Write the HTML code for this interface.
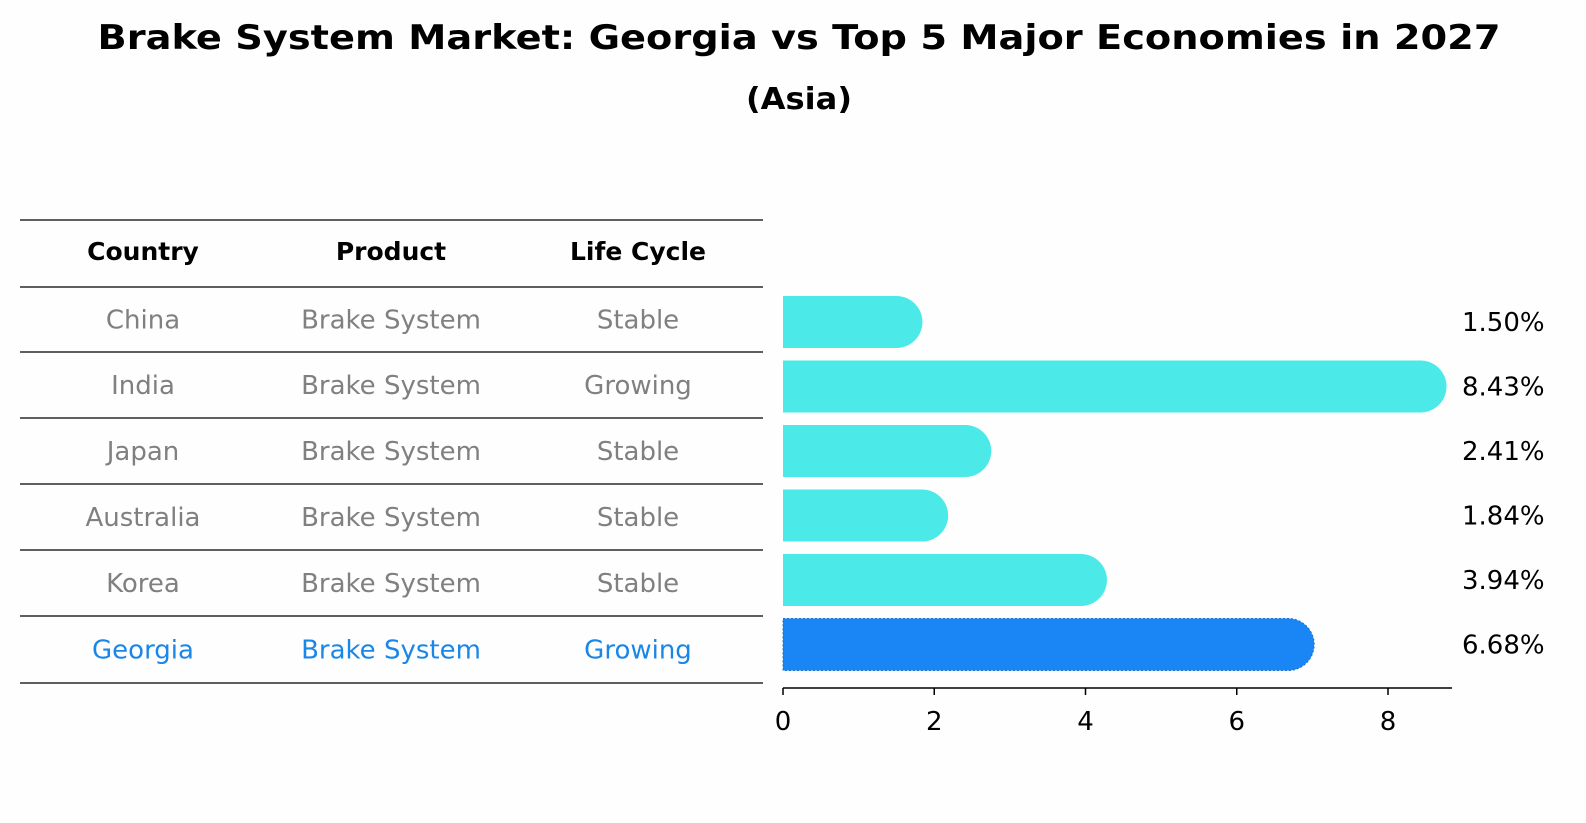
<!DOCTYPE html>
<html><head><meta charset="utf-8"><style>
body{margin:0;background:#fff;}
svg{display:block;font-family:"DejaVu Sans","Liberation Sans",sans-serif;}
</style></head><body>
<svg id="chart" width="1586" height="823" xmlns="http://www.w3.org/2000/svg">
<rect width="1586" height="823" fill="#fefefe"/>
<text x="799" y="49" text-anchor="middle" font-size="34" font-weight="bold" textLength="1403" lengthAdjust="spacingAndGlyphs">Brake System Market: Georgia vs Top 5 Major Economies in 2027</text>
<text x="799" y="109" text-anchor="middle" font-size="30" font-weight="bold" textLength="106" lengthAdjust="spacingAndGlyphs">(Asia)</text>
<g id="table"></g>
<g id="bars"></g>
</svg>
<script>
const countries=["China","India","Japan","Australia","Korea","Georgia"];
const products=["Brake System","Brake System","Brake System","Brake System","Brake System","Brake System"];
const lifeCycles=["Stable","Growing","Stable","Stable","Stable","Growing"];
const values=[1.50,8.43,2.41,1.84,3.94,6.68];
const ticks=[0,2,4,6,8];
const NS="http://www.w3.org/2000/svg";
const tbl=document.getElementById('table');
const bars=document.getElementById('bars');
function mk(tag,attrs,parent,text){const e=document.createElementNS(NS,tag);for(const k in attrs)e.setAttribute(k,attrs[k]);if(text!==undefined)e.textContent=text;parent.appendChild(e);return e;}
const lineYs=[220,287,352,418,484,550,616,683];
lineYs.forEach((y)=>{const l=mk('line',{x1:20,x2:763,y1:y,y2:y,stroke:'#000','stroke-width':1.2},tbl);

});
const colX=[143,391,638];
["Country","Product","Life Cycle"].forEach((h,i)=>{const t=mk('text',{x:colX[i],y:260,'text-anchor':'middle','font-size':25,'font-weight':'bold'},tbl,h);

});
const rowY=i=>(lineYs[i+1]+lineYs[i+2])/2+9;
countries.forEach((c,i)=>{const col=c==="Georgia"?"#1a86e8":"#808080";
[c,products[i],lifeCycles[i]].forEach((v,j)=>{const t=mk('text',{x:colX[j],y:rowY(i),'text-anchor':'middle','font-size':26,fill:col},tbl,v);

});});
const x0=783,pxPer=605/8;const xs=v=>x0+v*pxPer;
const yc=i=>322+i*64.5;const bh=52,r=26;
values.forEach((v,i)=>{const geo=countries[i]==="Georgia";const fill=geo?"#1a86f5":"#4beae8";
const x1=xs(v);const y=yc(i)-bh/2;
const p=mk('path',{d:`M${x0},${y} H${x1} A${r},${r} 0 0 1 ${x1},${y+bh} H${x0} Z`,fill:fill},bars);
if(geo){p.setAttribute('stroke','#1570d0');p.setAttribute('stroke-dasharray','2,2');}


const t=mk('text',{x:1462,y:yc(i)+9,'font-size':26},bars,v.toFixed(2)+'%');

});
const ax=mk('line',{x1:x0,x2:1452,y1:688,y2:688,stroke:'#000','stroke-width':1.5},bars);


ticks.forEach(tk=>{const tl=mk('line',{x1:xs(tk),x2:xs(tk),y1:688,y2:695,stroke:'#000','stroke-width':1.5},bars);


const t=mk('text',{x:xs(tk),y:730,'text-anchor':'middle','font-size':26},bars,String(tk));

});
</script>
</body></html>
